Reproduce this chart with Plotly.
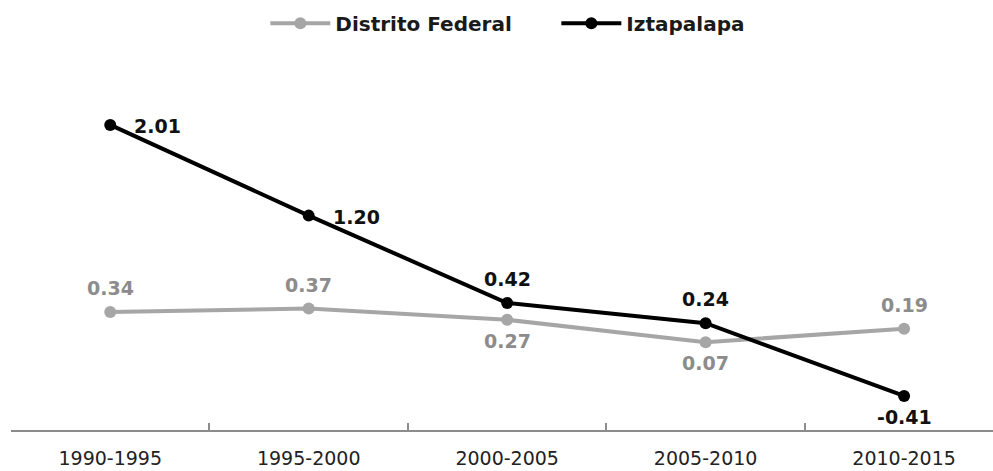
import plotly.graph_objects as go

periods = ["1990-1995", "1995-2000", "2000-2005", "2005-2010", "2010-2015"]
df_values = [0.34, 0.37, 0.27, 0.07, 0.19]
izt_values = [2.01, 1.20, 0.42, 0.24, -0.41]
df_label_pos = ["above", "above", "below", "below", "above"]
izt_label_pos = ["right", "right", "above", "above", "below"]

fig = go.Figure()
fig.add_trace(go.Scatter(
    x=periods, y=df_values, name="Distrito Federal",
    mode="lines+markers",
    line=dict(color="#A6A6A6", width=4),
    marker=dict(color="#A6A6A6", size=12),
    cliponaxis=False,
))
fig.add_trace(go.Scatter(
    x=periods, y=izt_values, name="Iztapalapa",
    mode="lines+markers",
    line=dict(color="#000000", width=4),
    marker=dict(color="#000000", size=12),
    cliponaxis=False,
))


def add_labels(values, positions, color):
    for cat, v, pos in zip(periods, values, positions):
        kw = dict(x=cat, y=v, text=f"{v:.2f}", showarrow=False,
                  font=dict(family="DejaVu Sans", size=19, color=color, weight="bold"))
        if pos == "above":
            kw.update(xanchor="center", yanchor="middle", yshift=24)
        elif pos == "below":
            kw.update(xanchor="center", yanchor="middle", yshift=-21)
        else:
            kw.update(xanchor="left", yanchor="middle", xshift=22, yshift=-1)
        fig.add_annotation(**kw)


add_labels(df_values, df_label_pos, "#8C8C8C")
add_labels(izt_values, izt_label_pos, "#111111")

fig.update_layout(
    width=993, height=471,
    margin=dict(l=11, r=0, t=55, b=41),
    paper_bgcolor="white", plot_bgcolor="white",
    showlegend=True,
    legend=dict(orientation="h", x=0.259, xanchor="left", y=0.992, yref="container", yanchor="top",
                font=dict(family="DejaVu Sans", size=20, color="#1a1a1a", weight="bold"),
                entrywidth=216, itemwidth=60, traceorder="normal"),
    xaxis=dict(
        type="category", range=[-0.5, 4.448], automargin=False,
        showline=True, linecolor="#8C8C8C", linewidth=1.5,
        ticks="inside", ticklen=7, tickcolor="#8C8C8C", tickwidth=1.5,
        tickson="boundaries", showgrid=False, zeroline=False,
        tickfont=dict(family="DejaVu Sans", size=19, color="#222222"),
        ticklabelstandoff=10,
    ),
    yaxis=dict(range=[-0.714, 2.634], visible=False, showgrid=False, zeroline=False,
               automargin=False),
)

fig.write_html("out.html", config={"displayModeBar": False},
               post_script="document.body.style.margin='0';")
